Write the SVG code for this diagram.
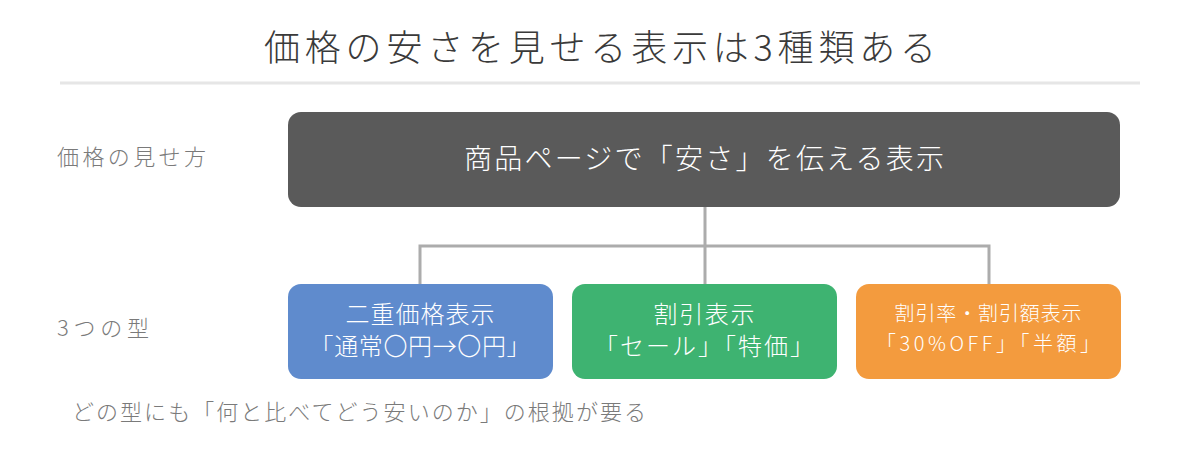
<svg xmlns="http://www.w3.org/2000/svg" width="1200" height="468" viewBox="0 0 1200 468">
<style>
text{font-family:"Noto Sans CJK JP","Noto Sans",sans-serif;font-weight:300}
.title{font-size:36px;fill:#3a3a3a}
.side{font-size:22px;fill:#7a7a7a}
.nt{fill:#ffffff;text-anchor:middle}
.conn{stroke:#acacac;stroke-width:3;fill:none}
</style>
<rect width="1200" height="468" fill="#ffffff"/>
<text class="title" x="600" y="61" text-anchor="middle" textLength="672" lengthAdjust="spacing">価格の安さを見せる表示は3種類ある</text>
<line x1="60" y1="83" x2="1140" y2="83" stroke="#e6e6e6" stroke-width="3"/>
<text class="side" x="57" y="165" textLength="149" lengthAdjust="spacing">価格の見せ方</text>
<text class="side" x="57" y="336" textLength="92" lengthAdjust="spacing">3つの型</text>
<g id="connectors">
<path class="conn" d="M705 207V246M420 246H989M420 244.5V284M705 246V284M989 244.5V284"/>
</g>
<g id="node-root">
<rect x="288" y="112" width="832" height="95" rx="13" fill="#5a5a5a"/>
<text class="nt" x="704" y="169" font-size="28" textLength="480" lengthAdjust="spacing">商品ページで「安さ」を伝える表示</text>
</g>
<g id="node-double">
<rect x="288" y="284" width="265" height="95" rx="13" fill="#5f8bcd"/>
<text class="nt" x="420" y="323" font-size="24" textLength="149" lengthAdjust="spacing">二重価格表示</text>
<text class="nt" x="420" y="355" font-size="24" textLength="221" lengthAdjust="spacing">「通常〇円→〇円」</text>
</g>
<g id="node-sale">
<rect x="572" y="284" width="265" height="95" rx="13" fill="#3eb371"/>
<text class="nt" x="704" y="323" font-size="24" textLength="101" lengthAdjust="spacing">割引表示</text>
<text class="nt" x="704" y="355" font-size="24" textLength="220" lengthAdjust="spacing">「セール」「特価」</text>
</g>
<g id="node-rate">
<rect x="856" y="284" width="265" height="95" rx="13" fill="#f39b3e"/>
<text class="nt" x="988" y="321" font-size="20" textLength="187" lengthAdjust="spacing">割引率・割引額表示</text>
<text class="nt" x="988" y="351" font-size="20" textLength="224" lengthAdjust="spacing">「30%OFF」「半額」</text>
</g>
<text class="side" x="72" y="420" textLength="574" lengthAdjust="spacing">どの型にも「何と比べてどう安いのか」の根拠が要る</text>
</svg>
